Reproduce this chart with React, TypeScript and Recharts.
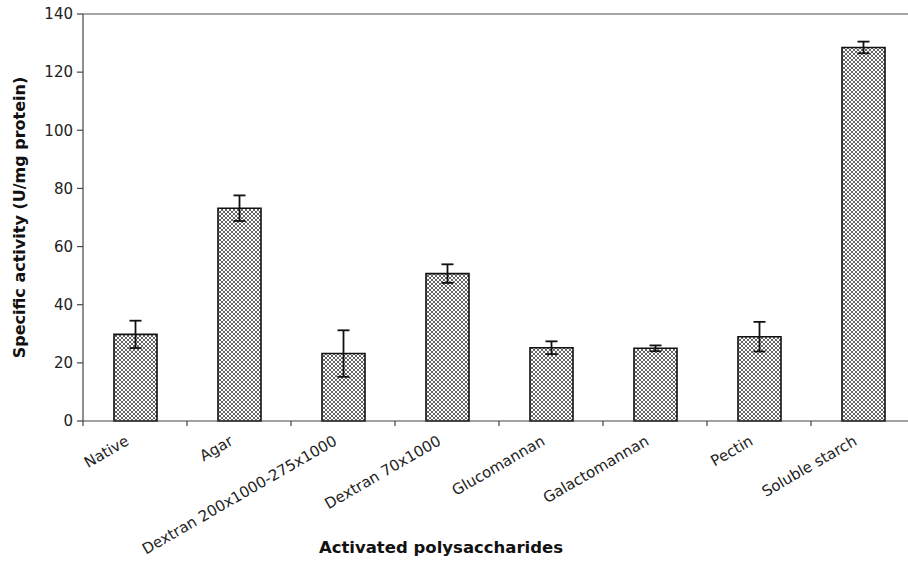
import React from 'react';
import { BarChart, Bar, XAxis, YAxis, ErrorBar, ReferenceLine } from 'recharts';

const categories = [
  'Native',
  'Agar',
  'Dextran 200x1000-275x1000',
  'Dextran 70x1000',
  'Glucomannan',
  'Galactomannan',
  'Pectin',
  'Soluble starch',
];
const activity = [29.8, 73.2, 23.2, 50.7, 25.2, 25.0, 29.0, 128.5];
const activityError = [4.7, 4.4, 8.0, 3.2, 2.2, 1.0, 5.1, 2.0];
const yTicks = [0, 20, 40, 60, 80, 100, 120, 140];

const data = categories.map((name, i) => ({
  name,
  value: activity[i],
  err: activityError[i],
}));

const CHART_W = 930;
const CHART_H = 563;
const PLOT_LEFT = 83;
const PLOT_RIGHT_MARGIN = 15;
const band = (CHART_W - PLOT_LEFT - PLOT_RIGHT_MARGIN) / categories.length;

const font = '"DejaVu Sans", Arial, sans-serif';

// label rotated -30deg plus a tick mark at the left edge of each category
const CategoryTick = (props: any) => {
  const { x, y, payload } = props;
  const tx = x - 5;
  const ty = y + 23;
  return (
    <g>
      <line x1={x - band / 2} y1={y} x2={x - band / 2} y2={y + 5} stroke="#444" strokeWidth={1.2} />
      <text
        x={tx}
        y={ty}
        transform={`rotate(-30, ${tx}, ${ty})`}
        textAnchor="end"
        fontSize={15}
        fontFamily={font}
        fill="#222"
      >
        {payload.value}
      </text>
    </g>
  );
};

const XTitle = (props: any) => {
  const { viewBox } = props;
  return (
    <text
      x={viewBox.x + viewBox.width / 2 - 58}
      y={553}
      textAnchor="middle"
      fontFamily={font}
      fontSize={16.5}
      fontWeight="bold"
      fill="#111"
    >
      Activated polysaccharides
    </text>
  );
};

export default function App() {
  return (
    <div style={{ position: 'absolute', left: 0, top: 0, width: 908, height: 563, overflow: 'hidden', background: '#fff' }}>
      <svg width={0} height={0} style={{ position: 'absolute' }}>
        <defs>
          <pattern id="hatch" patternUnits="userSpaceOnUse" width={4} height={4}>
            <rect width={4} height={4} fill="#fff" />
            <path d="M0,0 L4,4 M4,0 L0,4" stroke="#555" strokeWidth={0.9} />
          </pattern>
        </defs>
      </svg>
      <BarChart
        width={CHART_W}
        height={CHART_H}
        data={data}
        margin={{ top: 14, right: PLOT_RIGHT_MARGIN, left: 0, bottom: 0 }}
        barSize={43}
      >
        <ReferenceLine y={140} stroke="#888" strokeWidth={1.5} ifOverflow="extendDomain" />
        <XAxis
          dataKey="name"
          interval={0}
          height={142}
          tickSize={0}
          tickMargin={0}
          tick={<CategoryTick />}
          stroke="#444"
          strokeWidth={1.2}
          label={<XTitle />}
        />
        <YAxis
          width={PLOT_LEFT}
          domain={[0, 140]}
          ticks={yTicks}
          interval={0}
          tickSize={6}
          tickMargin={4}
          stroke="#444"
          strokeWidth={1.2}
          tick={{ fontFamily: font, fontSize: 15, fill: '#222' }}
          label={{
            value: 'Specific activity (U/mg protein)',
            angle: -90,
            position: 'insideLeft',
            offset: 19,
            style: { fontFamily: font, fontSize: 16, fontWeight: 'bold', fill: '#111', textAnchor: 'middle' },
          }}
        />
        <Bar dataKey="value" fill="url(#hatch)" stroke="#111" strokeWidth={1.6} isAnimationActive={false}>
          <ErrorBar dataKey="err" width={6} stroke="#111" strokeWidth={1.8} direction="y" />
        </Bar>
      </BarChart>
    </div>
  );
}
